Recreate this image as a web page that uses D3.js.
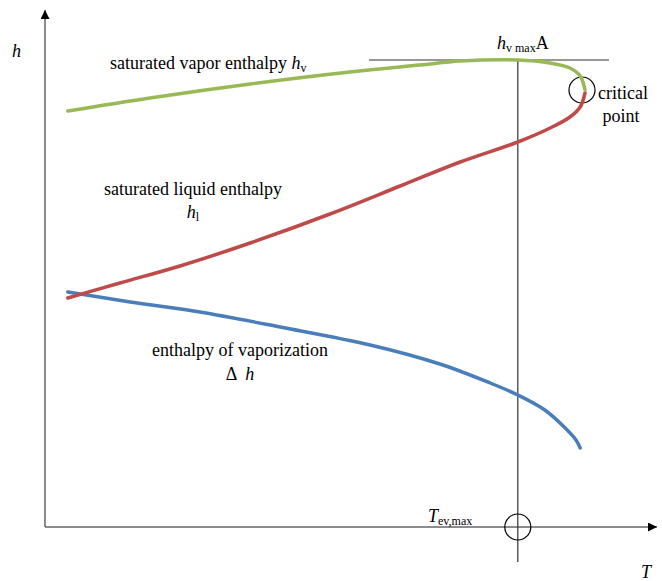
<!DOCTYPE html>
<html><head><meta charset="utf-8">
<script src="https://cdn.jsdelivr.net/npm/d3@7"></script>
<style>
body{margin:0;background:#fff;}
</style></head>
<body><svg id="c" width="662" height="581"></svg>
<script>
// Temperature (abstract units) and enthalpy (abstract units)
const vaporT = [3.8, 17.5, 34.2, 50.8, 62.5, 69.2, 78.8, 84.2, 87.5, 89.2, 90];
const vaporH = [83.2, 85.8, 88.6, 91, 92.4, 93.2, 93.4, 92.8, 91.8, 90.2, 87.4];
const liquidT = [3.8, 12.5, 22.5, 34.2, 47.5, 59.2, 69.2, 78.8, 84.2, 87.5, 89.2, 90];
const liquidH = [45.8, 48.8, 52.2, 56.8, 62.6, 68.2, 73, 77, 79.8, 82, 84, 86.8];
const vapT = [3.8, 14.2, 25.8, 39.2, 54.2, 65.8, 74.2, 78.8, 83.3, 86.7, 88.5, 89.2];
const vapH = [47, 45, 43, 40, 36.4, 32.6, 28.8, 26.4, 23.4, 19.8, 17.4, 15.8];
const Tmax = 78.8;      // T_ev,max
const hvMax = 93.4;     // h_v max
const Tcrit = 89.5, hCrit = 87.4;

const svg = d3.select("#c");
const x = d3.scaleLinear().domain([0, 100]).range([45, 645]);
const y = d3.scaleLinear().domain([0, 100]).range([527, 27]);

const defs = svg.append("defs");
defs.append("marker").attr("id","arr").attr("viewBox","0 0 10 10").attr("refX",10).attr("refY",5)
  .attr("markerWidth",12).attr("markerHeight",9).attr("markerUnits","userSpaceOnUse").attr("orient","auto")
  .append("path").attr("d","M0,0L10,5L0,10z").attr("fill","#000");

svg.append("line").attr("x1",x(0)).attr("y1",y(0)).attr("x2",x(0)).attr("y2",y(103.4))
  .attr("stroke","#666").attr("stroke-width",1.5).attr("marker-end","url(#arr)");
svg.append("line").attr("x1",x(0)).attr("y1",y(0)).attr("x2",x(102)).attr("y2",y(0))
  .attr("stroke","#666").attr("stroke-width",1.5).attr("marker-end","url(#arr)");

svg.append("line").attr("x1",x(Tmax)).attr("x2",x(Tmax)).attr("y1",y(hvMax)).attr("y2",y(-7))
  .attr("stroke","#333").attr("stroke-width",1.2);
svg.append("line").attr("x1",x(54)).attr("x2",x(94)).attr("y1",y(hvMax)).attr("y2",y(hvMax))
  .attr("stroke","#333").attr("stroke-width",1.2);

svg.append("circle").attr("cx",x(Tmax)).attr("cy",y(0)).attr("r",13).attr("fill","none").attr("stroke","#000").attr("stroke-width",1.2);
svg.append("circle").attr("cx",x(Tcrit)).attr("cy",y(hCrit)).attr("r",13).attr("fill","none").attr("stroke","#000").attr("stroke-width",1.2);

const line = d3.line().x(d=>x(d[0])).y(d=>y(d[1])).curve(d3.curveCatmullRom);
function draw(T,H,col){
  svg.append("path").datum(T.map((t,i)=>[t,H[i]])).attr("d",line)
    .attr("fill","none").attr("stroke",col).attr("stroke-width",3.5).attr("stroke-linecap","round");
}
draw(vapT, vapH, "#4a7ebb");
draw(liquidT, liquidH, "#be4b48");
draw(vaporT, vaporH, "#98b954");

const fs = 18, sub = 12;
const FF = "'Liberation Serif', 'Times New Roman', Times, serif";
function t(xp, yp, anchor){ return svg.append("text").attr("x",xp).attr("y",yp).attr("text-anchor",anchor||"start").attr("font-size",fs).attr("font-family",FF).attr("fill","#000"); }
t(12,57).append("tspan").attr("font-style","italic").text("h");
t(641,578).append("tspan").attr("font-style","italic").text("T");

const tv = t(110,69);
tv.append("tspan").text("saturated vapor enthalpy ");
tv.append("tspan").attr("font-style","italic").text("h");
tv.append("tspan").attr("font-size",sub).attr("dy",3).text("v");

const hm = t(497,49);
hm.append("tspan").attr("font-style","italic").text("h");
hm.append("tspan").attr("font-size",sub).attr("dy",3).text("v max");
hm.append("tspan").attr("dy",-3).text("A");

t(623,99,"middle").text("critical");
t(621,122,"middle").text("point");

t(193,195,"middle").text("saturated liquid enthalpy");
const hl = t(193,218,"middle");
hl.append("tspan").attr("font-style","italic").text("h");
hl.append("tspan").attr("font-size",sub).attr("dy",3).text("l");

t(240,356,"middle").text("enthalpy of vaporization");
const dh = t(240,380,"middle");
dh.append("tspan").text("Δ");
dh.append("tspan").attr("dx",8).attr("font-style","italic").text("h");

const te = t(428,522);
te.append("tspan").attr("font-style","italic").text("T");
te.append("tspan").attr("font-size",sub).attr("dy",3).text("ev,max");
</script></body></html>
